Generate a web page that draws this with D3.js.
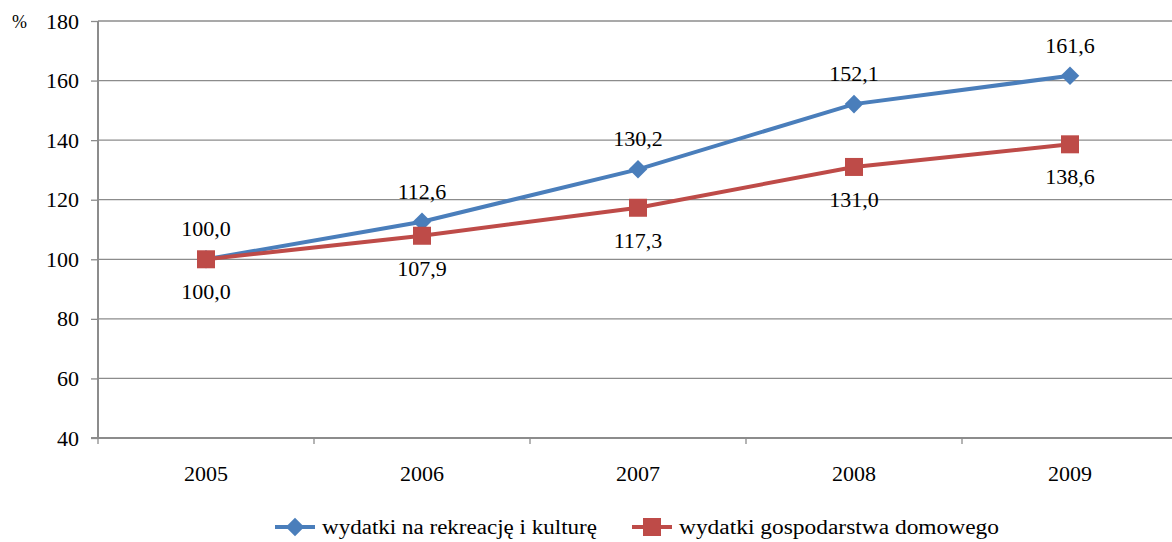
<!DOCTYPE html>
<html>
<head>
<meta charset="utf-8">
<script src="https://cdn.jsdelivr.net/npm/d3@7"></script>
<style>
  body { margin: 0; background: #fff; }
  svg text { font-family: "Liberation Serif", "Times New Roman", serif; fill: #000; }
</style>
</head>
<body>
<div id="chart"></div>
<script>
// Data (2005 = 100)
const years = ["2005", "2006", "2007", "2008", "2009"];
const culture = [100.0, 112.6, 130.2, 152.1, 161.6];
const household = [100.0, 107.9, 117.3, 131.0, 138.6];
const yTicks = [40, 60, 80, 100, 120, 140, 160, 180];
const seriesNames = ["wydatki na rekreację i kulturę", "wydatki gospodarstwa domowego"];

const W = 1172, H = 542;
const margin = { top: 21, right: -6, bottom: 104, left: 98 };
const width = W - margin.left - margin.right;
const height = H - margin.top - margin.bottom;

const svg = d3.select("#chart")
  .append("svg")
  .attr("width", W)
  .attr("height", H);

const g = svg.append("g")
  .attr("transform", `translate(${margin.left},${margin.top})`);

// Scales
const xScale = d3.scaleBand().domain(years).range([0, width]);
const yScale = d3.scaleLinear().domain([40, 180]).range([height, 0]);
const xc = (d) => xScale(d) + xScale.bandwidth() / 2;

// Gridlines
g.selectAll(".grid")
  .data(yTicks.filter((d) => d > 40))
  .enter()
  .append("line")
  .attr("x1", 0)
  .attr("x2", width)
  .attr("y1", (d) => yScale(d))
  .attr("y2", (d) => yScale(d))
  .attr("stroke", "#8c8c8c")
  .attr("stroke-width", 1.3);

// Y axis
const yAxis = d3.axisLeft(yScale).tickValues(yTicks).tickSize(7).tickPadding(12);
const yG = g.append("g").call(yAxis);
yG.select(".domain").attr("stroke", "#8c8c8c").attr("stroke-width", 2).attr("d", `M0,${height}V0`);
yG.selectAll(".tick line").attr("stroke", "#8c8c8c").attr("stroke-width", 1.3);
yG.selectAll(".tick text").attr("font-size", 22);

// X axis (ticks at band boundaries)
const xG = g.append("g").attr("transform", `translate(0,${height})`);
xG.append("line")
  .attr("x1", -7).attr("x2", width)
  .attr("stroke", "#8c8c8c").attr("stroke-width", 2);
xG.selectAll(".xtick")
  .data(years)
  .enter()
  .append("line")
  .attr("x1", (d) => xScale(d))
  .attr("x2", (d) => xScale(d))
  .attr("y1", 0).attr("y2", 6)
  .attr("stroke", "#8c8c8c").attr("stroke-width", 1.3);
xG.selectAll(".xlabel")
  .data(years)
  .enter()
  .append("text")
  .attr("x", (d) => xc(d))
  .attr("y", 43)
  .attr("text-anchor", "middle")
  .attr("font-size", 22)
  .text((d) => d);

// Percent sign
svg.append("text")
  .attr("x", 12).attr("y", 28)
  .attr("font-size", 18)
  .text("%");

// Lines
const line = d3.line()
  .x((d, i) => xc(years[i]))
  .y((d) => yScale(d));

const blue = "#4a7ebb", red = "#be4b48";

g.append("path").datum(culture)
  .attr("d", line).attr("fill", "none")
  .attr("stroke", blue).attr("stroke-width", 4);

g.append("path").datum(household)
  .attr("d", line).attr("fill", "none")
  .attr("stroke", red).attr("stroke-width", 4);

// Markers
const diamond = d3.symbol().type(d3.symbolDiamond2).size(220);
g.selectAll(".dia")
  .data(culture)
  .enter()
  .append("path")
  .attr("d", diamond)
  .attr("transform", (d, i) => `translate(${xc(years[i])},${yScale(d)})`)
  .attr("fill", blue);

g.selectAll(".sq")
  .data(household)
  .enter()
  .append("rect")
  .attr("x", (d, i) => xc(years[i]) - 9)
  .attr("y", (d) => yScale(d) - 9)
  .attr("width", 18).attr("height", 18)
  .attr("fill", red);

// Value labels
const fmt = (v) => v.toFixed(1).replace(".", ",");
g.selectAll(".lblA")
  .data(culture)
  .enter()
  .append("text")
  .attr("x", (d, i) => xc(years[i]))
  .attr("y", (d) => yScale(d) - 23)
  .attr("text-anchor", "middle")
  .attr("font-size", 22)
  .text(fmt);

g.selectAll(".lblB")
  .data(household)
  .enter()
  .append("text")
  .attr("x", (d, i) => xc(years[i]))
  .attr("y", (d) => yScale(d) + 40)
  .attr("text-anchor", "middle")
  .attr("font-size", 22)
  .text(fmt);

// Legend
const legend = svg.append("g").attr("transform", "translate(0,527)");
const items = [
  { x: 275, color: blue, name: seriesNames[0], w: 275, marker: "dia" },
  { x: 632, color: red, name: seriesNames[1], w: 320, marker: "sq" },
];
items.forEach((it) => {
  legend.append("line")
    .attr("x1", it.x).attr("x2", it.x + 40)
    .attr("stroke", it.color).attr("stroke-width", 4);
  if (it.marker === "dia") {
    legend.append("path")
      .attr("d", diamond)
      .attr("transform", `translate(${it.x + 20},0)`)
      .attr("fill", it.color);
  } else {
    legend.append("rect")
      .attr("x", it.x + 11).attr("y", -9)
      .attr("width", 18).attr("height", 18)
      .attr("fill", it.color);
  }
  legend.append("text")
    .attr("x", it.x + 47).attr("y", 7)
    .attr("font-size", 20)
    .attr("textLength", it.w)
    .attr("lengthAdjust", "spacingAndGlyphs")
    .text(it.name);
});
</script>
</body>
</html>
